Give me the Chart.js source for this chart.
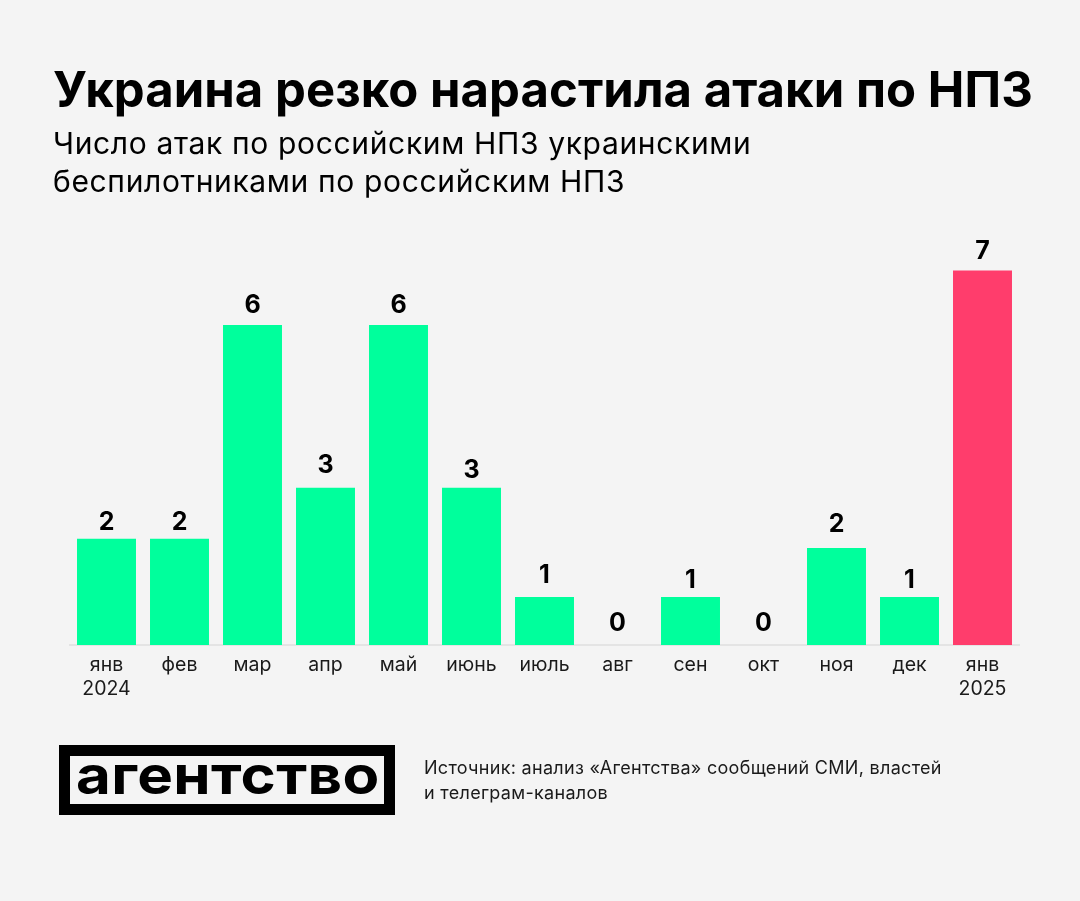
<!DOCTYPE html>
<html lang="ru">
<head>
<meta charset="utf-8">
<script src="https://cdn.jsdelivr.net/npm/chart.js@4"></script>
<style>
  html, body { margin: 0; padding: 0; background: #f4f4f4; }
  body { position: relative; width: 1080px; height: 901px; overflow: hidden; font-family: Inter, "Noto Sans", sans-serif; color: #000; }
  #chart { position: absolute; left: 0; top: 0; }
  .txt { position: absolute; white-space: nowrap; }
  #title { left: 53px; top: 60px; font-size: 49px; line-height: 60px; font-weight: 700; letter-spacing: 0.06px; }
  #subtitle { left: 53px; top: 124px; font-size: 30px; line-height: 38px; font-weight: 400; letter-spacing: 0.65px; }
  #logo { position: absolute; left: 59px; top: 745px; width: 314px; height: 48px; border: 11px solid #000; background: #f4f4f4; }
  #logo span { position: absolute; left: 6px; top: -13px; font-size: 60px; line-height: 70px; font-weight: 700; letter-spacing: 0.35px; transform: scaleY(0.9); transform-origin: left top; }
  #source { left: 424px; top: 755px; font-size: 18px; line-height: 25px; color: #1a1a1a; letter-spacing: 0.3px; }
</style>
</head>
<body>
<canvas id="chart" width="1080" height="901"></canvas>
<div class="txt" id="title">Украина резко нарастила атаки по НПЗ</div>
<div class="txt" id="subtitle">Число атак по российским НПЗ украинскими<br>беспилотниками по российским НПЗ</div>
<div id="logo"><span>агентство</span></div>
<div class="txt" id="source">Источник: анализ «Агентства» сообщений СМИ, властей<br>и телеграм-каналов</div>
<script>
const months = [['янв', '2024'], 'фев', 'мар', 'апр', 'май', 'июнь', 'июль', 'авг', 'сен', 'окт', 'ноя', 'дек', ['янв', '2025']];
// высоты столбиков как на картинке
const barValues = [1.99, 1.99, 6, 2.95, 6, 2.95, 0.9, 0, 0.9, 0, 1.82, 0.9, 7.02];
// подписи над столбиками
const valueLabels = ['2', '2', '6', '3', '6', '3', '1', '0', '1', '0', '2', '1', '7'];
// расстояние подписи от верха столбика
const labelLift = [16, 16, 20, 22, 20, 17, 22, 22, 17, 22, 23, 17, 19];

const green = '#00ff9c';
const red = '#ff3d6c';
const barColors = months.map((m, i) => i === months.length - 1 ? red : green);

// Подписи значений над столбиками
const valueLabelPlugin = {
  id: 'valueLabels',
  afterDatasetsDraw(chart) {
    const ctx = chart.ctx;
    ctx.save();
    ctx.font = '700 25px Inter, sans-serif';
    ctx.fillStyle = '#000';
    ctx.textAlign = 'center';
    ctx.textBaseline = 'middle';
    chart.getDatasetMeta(0).data.forEach((bar, i) => {
      ctx.fillText(valueLabels[i], bar.x, bar.y - labelLift[i]);
    });
    ctx.restore();
  }
};

new Chart(document.getElementById('chart'), {
  type: 'bar',
  data: {
    labels: months,
    datasets: [{
      data: barValues,
      backgroundColor: barColors,
      categoryPercentage: 1,
      barPercentage: 0.808
    }]
  },
  options: {
    responsive: false,
    devicePixelRatio: 1,
    animation: false,
    layout: { padding: { left: 70, right: 61, top: 245, bottom: 0 } },
    plugins: { legend: { display: false }, tooltip: { enabled: false } },
    scales: {
      y: { display: false, min: 0, max: 7.5 },
      x: {
        grid: { display: false, drawTicks: false },
        border: { display: true, color: '#e4e4e4', width: 2 },
        afterFit(scale) { scale.height = 256; },
        ticks: {
          autoSkip: false,
          maxRotation: 0,
          minRotation: 0,
          padding: 8,
          color: '#1a1a1a',
          font: { family: 'Inter, sans-serif', size: 19.5, lineHeight: 1.22 }
        }
      }
    }
  },
  plugins: [valueLabelPlugin]
});
</script>
</body>
</html>
